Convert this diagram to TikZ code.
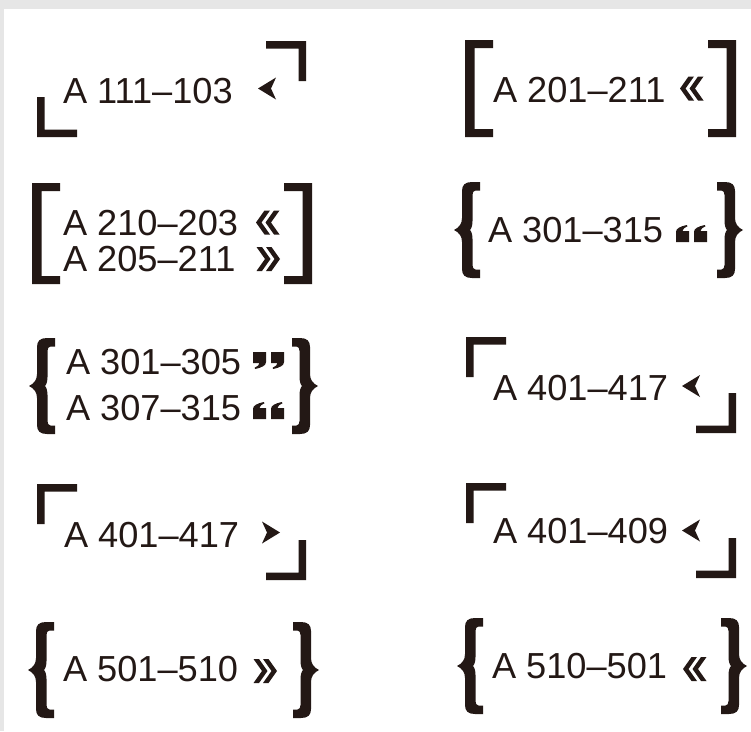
\documentclass[tikz,border=0pt]{standalone}
\usepackage{fontspec}
\setmainfont{Liberation Sans}
\definecolor{inkc}{HTML}{231815}
\definecolor{edgegray}{HTML}{E6E6E6}
\tikzset{
  lbl/.style={inner sep=0pt, outer sep=0pt, anchor=base west, text=inkc,
    font=\fontsize{36.2}{36.2}\selectfont},
  inkfill/.style={fill=inkc, draw=none}
}
% curly brace: #1 x of point, #2 y top, #3 direction (1 = left brace, -1 = right brace)
\newcommand\mybrace[3]{%
  \begin{scope}[shift={(#1,#2)}, xscale=#3]
    \fill[inkfill] (26,0) -- (26,8.5) -- (21.5,8.5) .. controls (19.5,8.5) and (18.5,10.5) .. (18.5,13)
      -- (18.5,39) .. controls (18.5,43) and (17.5,46.5) .. (16,48)
      .. controls (17.5,49.5) and (18.5,53) .. (18.5,57)
      -- (18.5,83) .. controls (18.5,85.5) and (19.5,87.5) .. (21.5,87.5) -- (26,87.5) -- (26,96)
      -- (18,96) .. controls (11,96) and (8,93) .. (8,87) -- (8,60)
      .. controls (8,54) and (5,50.5) .. (0,48) .. controls (5,45.5) and (8,42) .. (8,36)
      -- (8,9) .. controls (8,3) and (11,0) .. (18,0) -- cycle;
  \end{scope}}
% square bracket: #1 x outer edge, #2 y top, #3 height, #4 direction
\newcommand\mysq[4]{%
  \begin{scope}[shift={(#1,#2)}, xscale=#4]
    \fill[inkfill] (0,0) -- (28,0) -- (28,8) -- (9.5,8) -- (9.5,#3-8) -- (28,#3-8)
      -- (28,#3) -- (0,#3) -- cycle;
  \end{scope}}
% corner mark: #1,#2 corner point, #3 xdir, #4 ydir
\newcommand\mycorner[4]{%
  \begin{scope}[shift={(#1,#2)}, xscale=#3, yscale=#4]
    \fill[inkfill] (0,0) -- (40,0) -- (40,7.5) -- (7.5,7.5) -- (7.5,40) -- (0,40) -- cycle;
  \end{scope}}
% notched arrowhead: #1 tip x, #2 mid y, #3 direction (1 = points left)
\newcommand\myarrow[3]{%
  \begin{scope}[shift={(#1,#2)}, xscale=#3]
    \fill[inkfill] (0,0) -- (18,-11) -- (13,0) -- (18,11) -- cycle;
  \end{scope}}
% double chevron: #1 x of outer tip, #2 mid y, #3 direction (1 = points left)
\newcommand\mychev[3]{%
  \begin{scope}[shift={(#1,#2)}, xscale=#3]
    \fill[inkfill] (0,0) -- (8.5,-12) -- (14,-12) -- (5.5,0) -- (14,12) -- (8.5,12) -- cycle;
    \fill[inkfill] (9.5,0) -- (18,-12) -- (23.5,-12) -- (15,0) -- (23.5,12) -- (18,12) -- cycle;
  \end{scope}}
% heavy double quote: #1 x left, #2 y top, #3 1 = opening (66), -1 = closing (99)
\newcommand\myquote[3]{%
  \begin{scope}[shift={(#1+15.5,#2+8.5)}, xscale=#3, yscale=#3]
    \foreach \dx in {-15.5,2.5}{
      \fill[inkfill, shift={(\dx,-8.5)}] (0,17) -- (13,17) -- (13,6) -- (6.5,6)
        .. controls (6.8,4) and (8.5,2.5) .. (11.5,1.2) -- (10.8,0)
        .. controls (4,1.5) and (0,3.5) .. (0,7) -- cycle;
    }
  \end{scope}}
\begin{document}
\begin{tikzpicture}[x=1pt, y=-1pt]
  \useasboundingbox (0,0) rectangle (751,731);
  \fill[edgegray] (0,0) rectangle (751,731);
  \fill[white] (4,9) rectangle (751,731);

  % Panel 1
  \mycorner{306}{41}{-1}{1}
  \mycorner{37}{137}{1}{-1}
  \node[lbl] (t1) at (63,103) {A 111–103};
  \myarrow{258}{88.5}{1}

  % Panel 2
  \mysq{465}{40}{97}{1}
  \mysq{736}{40}{97}{-1}
  \node[lbl] (t2) at (493,102) {A 201–211};
  \mychev{680}{88.5}{1}

  % Panel 3
  \mysq{32}{183}{101}{1}
  \mysq{312}{183}{101}{-1}
  \node[lbl] (t3a) at (63,235) {A 210–203};
  \node[lbl] (t3b) at (63,271) {A 205–211};
  \mychev{256}{222.5}{1}
  \mychev{280}{259}{-1}

  % Panel 4
  \mybrace{454}{182}{1}
  \mybrace{743}{182}{-1}
  \node[lbl] (t4) at (488,242) {A 301–315};
  \myquote{676}{225}{1}

  % Panel 5
  \mybrace{29}{338}{1}
  \mybrace{318}{338}{-1}
  \node[lbl] (t5a) at (66,374) {A 301–305};
  \node[lbl] (t5b) at (66,420) {A 307–315};
  \myquote{253}{352}{-1}
  \myquote{253}{402}{1}

  % Panel 6
  \mycorner{466}{337}{1}{1}
  \mycorner{736}{433}{-1}{-1}
  \node[lbl] (t6) at (493,400) {A 401–417};
  \myarrow{682}{386}{1}

  % Panel 7
  \mycorner{37}{484}{1}{1}
  \mycorner{306}{580}{-1}{-1}
  \node[lbl] (t7) at (64,547) {A 401–417};
  \myarrow{280}{532.5}{-1}

  % Panel 8
  \mycorner{466}{483}{1}{1}
  \mycorner{736}{578}{-1}{-1}
  \node[lbl] (t8) at (493,543) {A 401–409};
  \myarrow{682}{530.5}{1}

  % Panel 9
  \mybrace{28}{622}{1}
  \mybrace{319}{622}{-1}
  \node[lbl] (t9) at (63,681) {A 501–510};
  \mychev{277}{671}{-1}

  % Panel 10
  \mybrace{457}{618}{1}
  \mybrace{747}{618}{-1}
  \node[lbl] (t10) at (492,678) {A 510–501};
  \mychev{683}{669}{1}
\end{tikzpicture}
\end{document}
